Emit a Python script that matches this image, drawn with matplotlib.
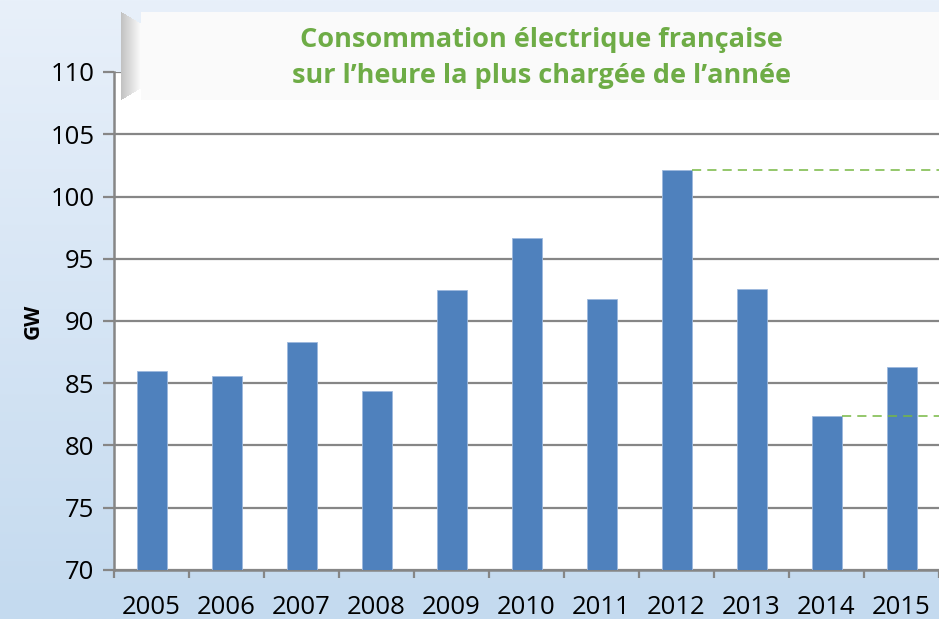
import numpy as np
import matplotlib.pyplot as plt
from matplotlib.patches import Rectangle, Polygon

# données (GW)
years = ['2005', '2006', '2007', '2008', '2009', '2010', '2011', '2012', '2013', '2014', '2015']
peak_gw = [86.0, 85.6, 88.3, 84.4, 92.5, 96.7, 91.8, 102.1, 92.6, 82.4, 86.3]
y_ticks = [70, 75, 80, 85, 90, 95, 100, 105, 110]
title_lines = ["Consommation électrique française", "sur l’heure la plus chargée de l’année"]

W, H = 939, 619
fig = plt.figure(figsize=(W / 100, H / 100), dpi=100)
plt.rcParams['font.family'] = ['Open Sans', 'DejaVu Sans']

# fond dégradé bleu clair
bg = fig.add_axes([0, 0, 1, 1], zorder=-10)
grad = np.linspace(0, 1, 256).reshape(-1, 1)
top_c = np.array([232, 240, 250]) / 255
bot_c = np.array([196, 218, 239]) / 255
img = top_c + (bot_c - top_c) * grad[:, :, None] * np.ones((1, 2, 1))
bg.imshow(img, aspect='auto', extent=[0, 1, 0, 1], origin='upper')
bg.set_axis_off()

left, right = 114, 939
y_bot, y_top = 570, 72
ax = fig.add_axes([left / W, (H - y_bot) / H, (right - left) / W, (y_bot - y_top) / H])
ax.set_facecolor('white')

x = np.arange(len(years))
ax.bar(x, peak_gw, width=0.4, color='#4F81BD', edgecolor='#9DB9DE', linewidth=0.6, zorder=3)

# lignes de référence pointillées (2012 et 2014)
for i in (7, 9):
    ax.plot([x[i] + 0.2, len(years) - 0.5], [peak_gw[i], peak_gw[i]],
            color='#77B843', linestyle=(0, (6, 4)), linewidth=1.1, zorder=4)

ax.set_xlim(-0.5, len(years) - 0.5)
ax.set_ylim(70, 110)
ax.set_yticks(y_ticks)
ax.set_yticklabels([str(v) for v in y_ticks], fontsize=18.5)
ax.yaxis.grid(True, color='#868686', linewidth=1.6, zorder=1)
ax.set_axisbelow(True)

ax.set_xticks(x)
ax.set_xticklabels(years, fontsize=18.5)
ax.set_xticks(np.arange(-0.5, len(years)), minor=True)
ax.tick_params(axis='x', which='major', length=0, pad=18)
ax.tick_params(axis='x', which='minor', length=6, width=1.6, color='#868686')
ax.tick_params(axis='y', length=8, width=1.6, color='#868686', pad=6)

for s in ('top', 'right'):
    ax.spines[s].set_visible(False)
for s in ('left', 'bottom'):
    ax.spines[s].set_color('#868686')
    ax.spines[s].set_linewidth(1.8)

ax.set_ylabel('GW', fontsize=15, fontweight='bold', labelpad=5)

# boîte du titre avec ombre à gauche (dégradé gris)
bx0, bx1, by0, by1 = 121, 945, 12, 100
n_shade = 20
for k in range(n_shade):
    g = 0.76 + 0.22 * k / (n_shade - 1)
    x0 = bx0 + k
    fig.patches.append(Polygon([[x0 / W, 1 - (by0 + 0.6 * k) / H], [(x0 + 1.2) / W, 1 - (by0 + 0.6 * k) / H],
                                [(x0 + 1.2) / W, 1 - (by1 - 0.6 * k) / H], [x0 / W, 1 - (by1 - 0.6 * k) / H]],
                               closed=True, transform=fig.transFigure,
                               facecolor=(g, g, g), edgecolor='none', zorder=5))
fig.patches.append(Rectangle(((bx0 + n_shade) / W, 1 - by1 / H), (bx1 - bx0 - n_shade) / W, (by1 - by0) / H,
                             transform=fig.transFigure, facecolor='#FAFAFA',
                             edgecolor='none', zorder=5))
fig.text(541 / W, 1 - 40 / H, title_lines[0], ha='center', va='center',
         fontsize=19.5, fontweight='bold', color='#6EAC46', zorder=6)
fig.text(541 / W, 1 - 76 / H, title_lines[1], ha='center', va='center',
         fontsize=19.5, fontweight='bold', color='#6EAC46', zorder=6)

fig.savefig('out.png', dpi=100)
